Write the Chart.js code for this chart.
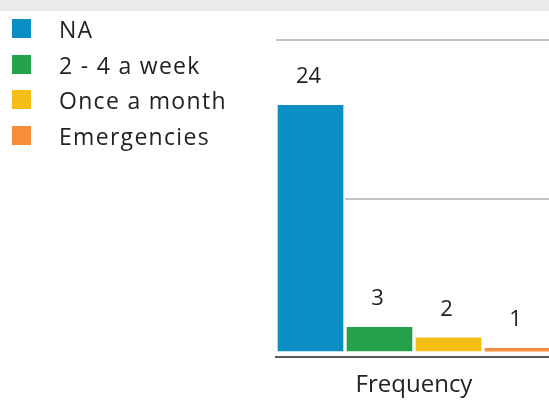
<!DOCTYPE html>
<html>
<head>
<meta charset="utf-8">
<title>Frequency</title>
<script src="https://cdn.jsdelivr.net/npm/chart.js@4.4.1/dist/chart.umd.min.js"></script>
<style>
    html, body { margin: 0; padding: 0; background: #fff; overflow: hidden; }
    body { width: 549px; height: 403px; position: relative; font-family: 'Open Sans', sans-serif; }
    .top-strip { position: absolute; left: 0; top: 0; width: 100%; height: 11px; background: #ebebeb; }
    .chart-box { position: absolute; left: 0; top: 0; width: 560px; height: 403px; }
    #legend { position: absolute; left: 12px; top: 11px; margin: 0; padding: 0; list-style: none; }
    #legend li { display: flex; align-items: center; height: 35.6px; }
    #legend .swatch { width: 19px; height: 19px; margin-right: 28px; }
    #legend .text { position: relative; top: 0.5px; font-size: 23px; letter-spacing: 1.3px; color: #222222; }
</style>
</head>
<body>
<div class="top-strip"></div>
<div class="chart-box"><canvas id="frequencyChart"></canvas></div>
<ul id="legend"></ul>
<script>
"use strict";

const categories = ['Frequency'];
const seriesNames = ['NA', '2 - 4 a week', 'Once a month', 'Emergencies'];
const seriesValues = [24, 3, 2, 1];
const seriesColors = ['#0b8ec3', '#25a249', '#f5be16', '#f78c3b'];
const yMin = 0;
const yMax = 30;
const yStep = 15;

// value printed above each bar
const valueLabels = {
    id: 'valueLabels',
    afterDatasetsDraw(chart) {
        const ctx = chart.ctx;
        ctx.save();
        ctx.font = '22px "Open Sans"';
        ctx.fillStyle = '#1f1f1f';
        ctx.textAlign = 'center';
        ctx.textBaseline = 'alphabetic';
        chart.data.datasets.forEach((ds, i) => {
            chart.getDatasetMeta(i).data.forEach((bar, j) => {
                ctx.fillText(String(ds.data[j]), bar.x - 2, bar.y - 20);
            });
        });
        ctx.restore();
    }
};

document.addEventListener('DOMContentLoaded', function () {
    const legendList = document.getElementById('legend');
    seriesNames.forEach((name, i) => {
        const li = document.createElement('li');
        const swatch = document.createElement('span');
        swatch.className = 'swatch';
        swatch.style.background = seriesColors[i];
        const text = document.createElement('span');
        text.className = 'text';
        text.textContent = name;
        li.appendChild(swatch);
        li.appendChild(text);
        legendList.appendChild(li);
    });

    new Chart(document.getElementById('frequencyChart'), {
        type: 'bar',
        data: {
            labels: categories,
            datasets: seriesNames.map((name, i) => ({
                label: name,
                data: [seriesValues[i]],
                backgroundColor: seriesColors[i],
                borderColor: '#ffffff',
                borderWidth: { top: 2, right: 2, bottom: 5, left: 2 },
                borderSkipped: false,
                categoryPercentage: 1,
                barPercentage: 1
            }))
        },
        options: {
            responsive: true,
            maintainAspectRatio: false,
            animation: false,
            layout: {
                padding: { left: 276, right: 8, top: 40, bottom: 0 }
            },
            plugins: {
                legend: { display: false },
                tooltip: { enabled: false }
            },
            scales: {
                x: {
                    grid: { display: false, drawTicks: false },
                    border: { color: '#555555', width: 2 },
                    ticks: {
                        padding: 14,
                        color: '#222222',
                        font: { family: 'Open Sans', size: 24 }
                    },
                    afterFit: (scale) => { scale.height = 46; }
                },
                y: {
                    min: yMin,
                    max: yMax,
                    ticks: { display: false, stepSize: yStep },
                    grid: {
                        drawTicks: false,
                        lineWidth: 2,
                        color: (c) => c.tick && c.tick.value === yMin ? 'rgba(0,0,0,0)' : '#c3c3c3'
                    },
                    border: { display: false }
                }
            }
        },
        plugins: [valueLabels]
    });
});
</script>
</body>
</html>
